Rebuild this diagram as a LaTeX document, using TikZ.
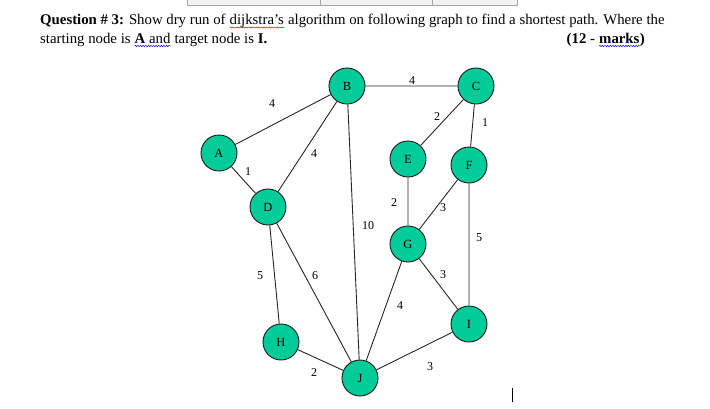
\documentclass[tikz,border=0pt]{standalone}
\usepackage{fontspec}
\setmainfont{Liberation Serif}
\usepackage{xcolor}
\usepackage{tikz}
\usetikzlibrary{positioning,decorations.pathmorphing}
\definecolor{vgreen}{RGB}{0,204,153}

\begin{document}
\begin{tikzpicture}[x=1pt, y=-1pt, font=\rmfamily\fontsize{14.8}{17}\selectfont,
  vertex/.style={circle, draw=black!90, line width=0.9pt, fill=vgreen, minimum size=36pt, inner sep=0pt, font=\rmfamily\fontsize{12.5}{14}\selectfont},
  wt/.style={inner sep=0pt, font=\rmfamily\fontsize{12}{14}\selectfont},
  txt/.style={anchor=base west, inner sep=0pt},
  squiggle/.style={decorate, decoration={snake, amplitude=0.6pt, segment length=2.6pt}, line width=0.5pt}]
\useasboundingbox (0,0) rectangle (710,408);
% table edge at the top
\draw[black!35, fill=black!5] (187,-2) rectangle (517,5);
\draw[black!35] (320,-2) -- (320,5) (432,-2) -- (432,5);
% question text
\node[txt] (q1a) at (40,24) {\textbf{Question \# 3:} Show dry run of};
\node[txt, base right=3.7pt of q1a] (q1b) {dijkstra's};
\node[txt, base right=3.7pt of q1b] (q1c) {algorithm on following graph to find a shortest path. Where the};
\node[txt] (q2a) at (40,43) {starting node is};
\node[txt, base right=3.7pt of q2a] (q2b) {\textbf{A} and};
\node[txt, base right=3.7pt of q2b] (q2c) {target node is \textbf{I.}};
\node[inner sep=0pt, anchor=base east] (q3c) at (645,43) {\textbf{)}};
\node[inner sep=0pt, base left=0pt of q3c] (q3b) {\textbf{marks}};
\node[inner sep=0pt, base left=3.7pt of q3b] (q3a) {\textbf{(12 -}};
\draw[squiggle, red] ([yshift=-3.5pt]q1b.base west) -- ([yshift=-3.5pt]q1b.base east);
\draw[squiggle, blue] ([yshift=-3pt]q2b.base west) -- ([yshift=-3pt]q2b.base east);
\draw[squiggle, blue] ([yshift=-3pt]q3b.base west) -- ([yshift=-3pt]q3b.base east);
% graph
\node[vertex] (A) at (219,153) {A};
\node[vertex] (B) at (347,86) {B};
\node[vertex] (C) at (476,86) {C};
\node[vertex] (D) at (268,207) {D};
\node[vertex] (E) at (408,159) {E};
\node[vertex] (F) at (469,165) {F};
\node[vertex] (G) at (408,244) {G};
\node[vertex] (H) at (281,342) {H};
\node[vertex] (I) at (469,324) {I};
\node[vertex] (J) at (360,378) {J};
\draw[black!85, line width=0.9pt] (A) -- (B) (A) -- (D) (B) -- (D) (B) -- (C) (B) -- (J)
  (C) -- (E) (C) -- (F) (E) -- (G) (F) -- (G) (F) -- (I)
  (D) -- (H) (D) -- (J) (G) -- (J) (G) -- (I) (H) -- (J) (J) -- (I);
\node[wt] (wAB) at (272,104) {4};
\node[wt] (wBC) at (412,81) {4};
\node[wt] (wCE) at (437,117) {2};
\node[wt] (wCF) at (485,123) {1};
\node[wt] (wAD) at (248,172) {1};
\node[wt] (wBD) at (314,154) {4};
\node[wt] (wEG) at (394,203) {2};
\node[wt] (wFG) at (443,208) {3};
\node[wt] (wBJ) at (368,226) {10};
\node[wt] (wFI) at (479,238) {5};
\node[wt] (wDH) at (260,276) {5};
\node[wt] (wDJ) at (315,276) {6};
\node[wt] (wGJ) at (400,306) {4};
\node[wt] (wGI) at (443,275) {3};
\node[wt] (wHJ) at (314,373) {2};
\node[wt] (wJI) at (430,367) {3};
% cursor
\draw[line width=0.8pt] (512,388) -- (512,402);
\end{tikzpicture}
\end{document}
